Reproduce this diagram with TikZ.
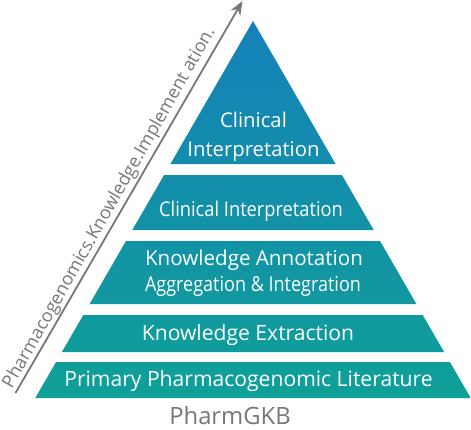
\documentclass[tikz,border=0pt]{standalone}
\usepackage{fontspec}
\setmainfont{Open Sans}
\usetikzlibrary{arrows.meta}
\definecolor{pyrtop}{HTML}{1581B9}
\definecolor{pyrbot}{HTML}{0FA097}
\definecolor{arrgray}{HTML}{777777}
\tikzset{
  lbl/.style={text=white, anchor=base, inner sep=0pt, font=\fontsize{20.3}{24}\selectfont},
}
\begin{document}
\begin{tikzpicture}[x=1pt,y=-1pt]
\useasboundingbox (0,0) rectangle (471,429);
% pyramid bands, shaded as one
\begin{scope}
\clip (253,21) -- (335.6,164) -- (170.4,164) -- cycle
      (164.1,175) -- (341.9,175) -- (373.7,230) -- (132.3,230) -- cycle
      (126.0,241) -- (380.0,241) -- (416.4,304) -- (89.6,304) -- cycle
      (83.3,315) -- (422.7,315) -- (444.1,352) -- (61.9,352) -- cycle
      (56.1,362) -- (449.9,362) -- (470.7,398) -- (35.3,398) -- cycle;
\shade[top color=pyrtop, bottom color=pyrbot] (0,21) rectangle (471,398);
\end{scope}
% labels
\node[lbl] (t1) at (253.5,127) {Clinical};
\node[lbl] (t2) at (253.5,156) {Interpretation};
\node[lbl] (b2) at (251,216) {\scalebox{0.9}[1]{Clinical Interpretation}};
\node[lbl, font=\fontsize{20.6}{24}\selectfont] (b3a) at (254,265) {Knowledge Annotation};
\node[lbl, font=\fontsize{20.6}{24}\selectfont] (b3b) at (253,291) {\scalebox{0.875}[1]{Aggregation \& Integration}};
\node[lbl, font=\fontsize{21.1}{25}\selectfont] (b4) at (248,340) {Knowledge Extraction};
\node[lbl, font=\fontsize{21.1}{25}\selectfont] (b5) at (248.5,386) {Primary Pharmacogenomic Literature};
\node[anchor=base, inner sep=0pt, text=arrgray, font=\fontsize{23.8}{28}\selectfont] (pg) at (230,424) {PharmGKB};
% axis arrow
\coordinate (as) at (15.5,393);
\coordinate (ae) at (242.5,1);
\draw[arrgray, line width=1.8pt, -{Stealth[length=14pt,width=11pt]}] (as) -- (ae);
\node[anchor=base, rotate=60.4, inner sep=0pt, text=arrgray, font=\fontsize{18}{22}\selectfont] (ax) at (113.6,210.3) {Pharmacogenomics.Knowledge.Implement ation.};
\end{tikzpicture}
\end{document}
